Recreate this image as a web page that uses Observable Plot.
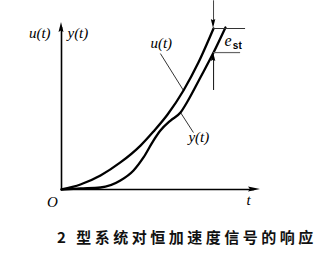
<!DOCTYPE html>
<html>
<head>
<meta charset="utf-8">
<script src="https://cdn.jsdelivr.net/npm/d3@7"></script>
<script src="https://cdn.jsdelivr.net/npm/@observablehq/plot@0.6"></script>
<style>
  body { margin: 0; background: #fff; }
  #caption {
    height: 38px; line-height: 44px; padding-left: 57px;
    font-family: "Noto Sans CJK SC"; font-size: 15px; font-weight: 700;
    letter-spacing: 3.5px; color: #111; white-space: nowrap;
  }
</style>
</head>
<body>
<div id="chart"></div>
<div id="caption"></div>
<script>
// Constant-acceleration input u(t) and the response y(t) of a type-2 system
const tU   = [0, 0.95, 1.96, 2.96, 3.97, 4.62, 5.33, 6.13, 6.88, 7.64];
const uVal = [0, 0.30, 0.84, 1.62, 2.63, 3.47, 4.49, 5.93, 7.60, 9.64];
const tY   = [0, 0.95, 1.96, 2.96, 3.62, 4.12, 4.62, 4.97, 5.48, 5.98, 6.33, 6.98, 7.64, 8.24];
const yVal = [0, 0.06, 0.12, 0.54, 1.14, 1.92, 2.93, 3.53, 4.13, 4.61, 5.27, 6.71, 8.20, 9.70];

// Steady-state error e_st measured at the end of the curves
const estT = 7.64;          // where the error is marked
const estTop = 9.64;        // u(t) there
const estBottom = 8.20;     // y(t) there
const estLineEnds = [9.25, 9.0];

// Axis extent (x to the arrow tip, y to the arrow tip)
const xMax = 10, yMax = 10;

// Labels
const axisLabelsLeft = [{text: "u(t)", x: -0.55, y: 9.34}];
const axisLabelsRight = [{text: "y(t)", x: 0.30, y: 9.34}];
const axisLabelsMid = [
  {text: "O", x: -0.45, y: -0.78},
  {text: "t", x: 9.40, y: -0.66}
];
const curveLabels = [
  {text: "u(t)", x: 4.47, y: 8.74},
  {text: "y(t)", x: 6.38, y: 3.11}
];
const captionText = "2 型系统对恒加速度信号的响应";

const uData = tU.map((t, i) => ({t, v: uVal[i]}));
const yData = tY.map((t, i) => ({t, v: yVal[i]}));

// leader lines from the labels to the curves
const leaders = [
  {x1: 4.97, y1: 8.14, x2: uData[7].t, y2: uData[7].v},
  {x1: yData[9].t, y1: yData[9].v, x2: 6.63, y2: 3.41}
];

// filled arrowheads: tip point and direction in data space
const heads = [
  {x: 0, y: yMax, dx: 0, dy: 1, len: 10, w: 5},
  {x: xMax, y: 0, dx: 1, dy: 0, len: 12, w: 5},
  {x: estT, y: estTop, dx: 0, dy: -1, len: 9, w: 4.5},
  {x: estT, y: estBottom, dx: 0, dy: 1, len: 9, w: 4.5}
];

function arrowheads(list) {
  return (index, {x, y}) => {
    const g = d3.create("svg:g");
    for (const h of list) {
      const px = x(h.x), py = y(h.y);
      const ex = x(h.x + h.dx) - x(h.x), ey = y(h.y + h.dy) - y(h.y);
      const a = Math.atan2(ey, ex) * 180 / Math.PI;
      g.append("path")
        .attr("transform", `translate(${px},${py}) rotate(${a})`)
        .attr("d", `M0,0L${-h.len},${-h.w / 2}L${-h.len * 0.85},0L${-h.len},${h.w / 2}Z`)
        .attr("fill", "#000");
    }
    return g.node();
  };
}

const serif = "Liberation Serif";
const labelStyle = {x: "x", y: "y", text: "text", fontFamily: serif, fontStyle: "italic", fontSize: 15, fill: "#000"};

const chart = Plot.plot({
  width: 324,
  height: 215,
  marginLeft: 61,
  marginRight: 64,
  marginTop: 22,
  marginBottom: 26,
  x: {domain: [0, xMax], axis: null},
  y: {domain: [0, yMax], axis: null},
  marks: [
    // axes
    Plot.ruleX([0], {y1: 0, y2: yMax - 0.3, stroke: "#000", strokeWidth: 1.6}),
    Plot.ruleY([0], {x1: 0, x2: xMax - 0.3, stroke: "#000", strokeWidth: 1.6}),
    // curves
    Plot.line(uData, {x: "t", y: "v", curve: "monotone-x", stroke: "#000", strokeWidth: 2.3}),
    Plot.line(yData, {x: "t", y: "v", curve: "monotone-x", stroke: "#000", strokeWidth: 2.3}),
    // e_st markers
    Plot.ruleX([estT], {y1: 11.3, y2: estTop + 0.3, stroke: "#444", strokeWidth: 1}),
    Plot.ruleX([estT], {y1: 5.93, y2: estBottom - 0.3, stroke: "#222", strokeWidth: 1.1}),
    Plot.ruleY([estTop], {x1: estT, x2: estLineEnds[0], stroke: "#333", strokeWidth: 1}),
    Plot.ruleY([estBottom], {x1: estT, x2: estLineEnds[1], stroke: "#666", strokeWidth: 1.2}),
    arrowheads(heads),
    // leaders
    Plot.link(leaders, {x1: "x1", y1: "y1", x2: "x2", y2: "y2", stroke: "#000", strokeWidth: 0.8}),
    // text
    Plot.text(axisLabelsLeft, {...labelStyle, textAnchor: "end"}),
    Plot.text(axisLabelsRight, {...labelStyle, textAnchor: "start"}),
    Plot.text(axisLabelsMid, {...labelStyle, textAnchor: "middle"}),
    Plot.text(curveLabels, {...labelStyle, textAnchor: "start"}),
    Plot.text(["e"], {x: 8.19, y: 8.62, textAnchor: "start", lineAnchor: "bottom", fontFamily: serif, fontStyle: "italic", fontSize: 16, fill: "#000"}),
    Plot.text(["st"], {x: 8.61, y: 8.44, textAnchor: "start", lineAnchor: "bottom", fontFamily: "Liberation Sans", fontWeight: "bold", fontSize: 10, fill: "#000"})
  ]
});

document.getElementById("chart").append(chart);
document.getElementById("caption").textContent = captionText;
</script>
</body>
</html>
